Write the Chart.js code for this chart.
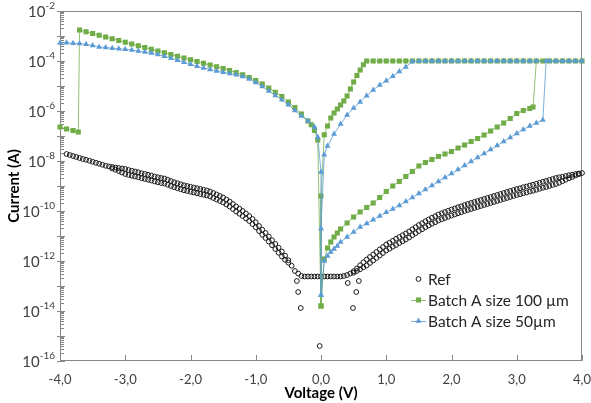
<!DOCTYPE html>
<html>
<head>
<meta charset="utf-8">
<script src="https://cdn.jsdelivr.net/npm/chart.js@4.4.0/dist/chart.umd.min.js"></script>
<style>
  html, body { margin: 0; padding: 0; background: #fff; }
  canvas { display: block; }
</style>
</head>
<body>
<canvas id="ivChart" width="591" height="403"></canvas>
<script>
// all currents are stored as log10(I / A), voltages in V
// Ref: the two sweep directions sit a little apart, upper row and lower row
const refUpper = [
  [-3.9,-7.72],[-3.85,-7.76],[-3.8,-7.80],[-3.75,-7.84],[-3.7,-7.88],[-3.65,-7.92],[-3.6,-7.95],[-3.55,-7.99],
  [-3.5,-8.03],[-3.45,-8.07],[-3.4,-8.11],[-3.35,-8.15],[-3.3,-8.19],[-3.25,-8.22],[-3.2,-8.24],[-3.15,-8.26],
  [-3.1,-8.28],[-3.05,-8.30],[-3.0,-8.32],[-2.95,-8.36],[-2.9,-8.39],[-2.85,-8.42],[-2.8,-8.45],[-2.75,-8.49],
  [-2.7,-8.52],[-2.65,-8.55],[-2.6,-8.58],[-2.55,-8.62],[-2.5,-8.65],[-2.45,-8.68],[-2.4,-8.70],[-2.35,-8.75],
  [-2.3,-8.80],[-2.25,-8.85],[-2.2,-8.89],[-2.15,-8.93],[-2.1,-8.97],[-2.05,-9.00],[-2.0,-9.03],[-1.95,-9.06],
  [-1.9,-9.09],[-1.85,-9.12],[-1.8,-9.15],[-1.75,-9.18],[-1.7,-9.22],[-1.65,-9.28],[-1.6,-9.34],[-1.55,-9.40],
  [-1.5,-9.46],[-1.45,-9.54],[-1.4,-9.62],[-1.35,-9.72],[-1.3,-9.82],[-1.25,-9.91],[-1.2,-10.00],[-1.15,-10.10],
  [-1.1,-10.20],[-1.05,-10.32],[-1.0,-10.45],[-0.95,-10.60],[-0.9,-10.75],[-0.85,-10.88],[-0.8,-11.02],[-0.75,-11.17],
  [-0.7,-11.32],[-0.65,-11.47],[-0.6,-11.62],[-0.55,-11.79],[-0.5,-11.97],[-0.45,-12.19],[-0.4,-12.40],[-0.35,-12.50],
  [-0.3,-12.60],[-0.25,-12.62],[-0.2,-12.62],[-0.15,-12.62],[-0.1,-12.62],[-0.05,-12.62],[0,-12.62],[0.05,-12.62],
  [0.1,-12.62],[0.15,-12.62],[0.2,-12.62],[0.25,-12.62],[0.3,-12.62],[0.35,-12.60],[0.4,-12.56],[0.45,-12.50],
  [0.5,-12.41],[0.55,-12.30],[0.6,-12.17],[0.65,-12.05],[0.7,-11.94],[0.75,-11.84],[0.8,-11.74],[0.85,-11.64],
  [0.9,-11.54],[0.95,-11.44],[1.0,-11.34],[1.05,-11.27],[1.1,-11.19],[1.15,-11.11],[1.2,-11.04],[1.25,-10.97],
  [1.3,-10.90],[1.35,-10.82],[1.4,-10.73],[1.45,-10.65],[1.5,-10.56],[1.55,-10.49],[1.6,-10.41],[1.65,-10.34],
  [1.7,-10.27],[1.75,-10.21],[1.8,-10.14],[1.85,-10.09],[1.9,-10.04],[1.95,-9.99],[2.0,-9.94],[2.05,-9.90],
  [2.1,-9.85],[2.15,-9.81],[2.2,-9.76],[2.25,-9.72],[2.3,-9.68],[2.35,-9.64],[2.4,-9.60],[2.45,-9.56],
  [2.5,-9.52],[2.55,-9.48],[2.6,-9.44],[2.65,-9.40],[2.7,-9.36],[2.75,-9.32],[2.8,-9.28],[2.85,-9.24],
  [2.9,-9.20],[2.95,-9.16],[3.0,-9.12],[3.05,-9.09],[3.1,-9.05],[3.15,-9.02],[3.2,-8.98],[3.25,-8.95],
  [3.3,-8.91],[3.35,-8.87],[3.4,-8.83],[3.45,-8.80],[3.5,-8.76],[3.55,-8.72],[3.6,-8.68],[3.65,-8.65],
  [3.7,-8.63],[3.75,-8.60],[3.8,-8.57],[3.85,-8.55],[3.9,-8.52],[3.95,-8.50],[4.0,-8.48]
];
const refLowerNeg = [
  [-3.2,-8.30],[-3.15,-8.35],[-3.1,-8.40],[-3.05,-8.46],[-3.0,-8.52],[-2.95,-8.56],[-2.9,-8.59],[-2.85,-8.62],
  [-2.8,-8.65],[-2.75,-8.69],[-2.7,-8.72],[-2.65,-8.75],[-2.6,-8.78],[-2.55,-8.82],[-2.5,-8.85],[-2.45,-8.88],
  [-2.4,-8.90],[-2.35,-8.95],[-2.3,-9.00],[-2.25,-9.05],[-2.2,-9.09],[-2.15,-9.13],[-2.1,-9.17],[-2.05,-9.20],
  [-2.0,-9.23],[-1.95,-9.26],[-1.9,-9.29],[-1.85,-9.32],[-1.8,-9.35],[-1.75,-9.38],[-1.7,-9.42],[-1.65,-9.48],
  [-1.6,-9.54],[-1.55,-9.60],[-1.5,-9.66],[-1.45,-9.74],[-1.4,-9.82],[-1.35,-9.92],[-1.3,-10.02],[-1.25,-10.11],
  [-1.2,-10.20],[-1.15,-10.30],[-1.1,-10.40],[-1.05,-10.52],[-1.0,-10.65],[-0.95,-10.80],[-0.9,-10.95],[-0.85,-11.08],
  [-0.8,-11.22],[-0.75,-11.37],[-0.7,-11.52],[-0.65,-11.67],[-0.6,-11.82],[-0.55,-11.95],[-0.5,-12.07]
];
const refLowerPos = [
  [0.5,-12.47],[0.55,-12.40],[0.6,-12.33],[0.65,-12.25],[0.7,-12.18],[0.75,-12.08],[0.8,-11.98],[0.85,-11.88],
  [0.9,-11.78],[0.95,-11.68],[1.0,-11.58],[1.05,-11.51],[1.1,-11.43],[1.15,-11.36],[1.2,-11.28],[1.25,-11.21],
  [1.3,-11.14],[1.35,-11.06],[1.4,-10.97],[1.45,-10.89],[1.5,-10.80],[1.55,-10.73],[1.6,-10.65],[1.65,-10.58],
  [1.7,-10.51],[1.75,-10.45],[1.8,-10.38],[1.85,-10.33],[1.9,-10.28],[1.95,-10.23],[2.0,-10.18],[2.05,-10.14],
  [2.1,-10.09],[2.15,-10.05],[2.2,-10.00],[2.25,-9.96],[2.3,-9.92],[2.35,-9.88],[2.4,-9.84],[2.45,-9.80],
  [2.5,-9.76],[2.55,-9.72],[2.6,-9.68],[2.65,-9.64],[2.7,-9.60],[2.75,-9.56],[2.8,-9.52],[2.85,-9.48],
  [2.9,-9.44],[2.95,-9.40],[3.0,-9.36],[3.05,-9.33],[3.1,-9.29],[3.15,-9.26],[3.2,-9.22],[3.25,-9.19],
  [3.3,-9.15],[3.35,-9.11],[3.4,-9.07],[3.45,-9.04],[3.5,-9.00],[3.55,-8.96],[3.6,-8.92],[3.65,-8.87],
  [3.7,-8.81],[3.75,-8.75],[3.8,-8.69],[3.85,-8.64],[3.9,-8.58],[3.95,-8.53]
];
const refScatter = [
  [-0.37,-12.80],[-0.35,-13.24],[-0.31,-13.88],[-0.02,-15.40],
  [0.41,-12.88],[0.49,-13.88],[0.54,-13.24],[0.58,-12.80]
];

// Batch A 100 um: 0 -> +4 -> 0 -> -4 sweep, in measured order
const b100Set = [
  [0,-13.8],[0.05,-11.92],[0.1,-11.48],[0.15,-11.24],[0.2,-11.04],[0.25,-10.88],[0.3,-10.72],[0.4,-10.48],
  [0.5,-10.24],[0.6,-10.04],[0.7,-9.86],[0.8,-9.68],[0.9,-9.46],[1.0,-9.22],[1.1,-9.00],[1.2,-8.82],
  [1.3,-8.62],[1.4,-8.42],[1.5,-8.20],[1.6,-8.06],[1.7,-7.94],[1.8,-7.82],[1.9,-7.72],[2.0,-7.62],
  [2.1,-7.48],[2.2,-7.36],[2.3,-7.22],[2.4,-7.10],[2.5,-6.96],[2.6,-6.80],[2.7,-6.64],[2.8,-6.48],
  [2.9,-6.30],[3.0,-6.10],[3.1,-5.98],[3.2,-5.90],[3.25,-5.84]
];
const b100On = [
  [3.3,-4],[3.4,-4],[3.5,-4],[3.6,-4],[3.7,-4],[3.8,-4],[3.9,-4],[4.0,-4],
  [3.2,-4],[3.1,-4],[3.0,-4],[2.9,-4],[2.8,-4],[2.7,-4],[2.6,-4],[2.5,-4],[2.4,-4],[2.3,-4],[2.2,-4],
  [2.1,-4],[2.0,-4],[1.9,-4],[1.8,-4],[1.7,-4],[1.6,-4],[1.5,-4],[1.4,-4],[1.3,-4],[1.2,-4],[1.1,-4],
  [1.0,-4],[0.9,-4],[0.8,-4],[0.7,-4],
  [0.65,-4.15],[0.6,-4.36],[0.55,-4.58],[0.5,-4.84],[0.45,-5.12],[0.4,-5.40],[0.35,-5.60],[0.3,-5.76],
  [0.25,-5.92],[0.2,-6.08],[0.15,-6.28],[0.1,-6.60],[0.05,-6.95],[0,-9.4],[0,-13.8]
];
const b100Reset = [
  [-0.05,-7.16],[-0.1,-6.78],[-0.15,-6.55],[-0.2,-6.40],[-0.3,-6.12],[-0.4,-5.86],[-0.5,-5.64],[-0.6,-5.42],
  [-0.7,-5.25],[-0.8,-5.08],[-0.9,-4.92],[-1.0,-4.78],[-1.1,-4.66],[-1.2,-4.55],[-1.3,-4.46],[-1.4,-4.38],
  [-1.5,-4.30],[-1.6,-4.23],[-1.7,-4.16],[-1.8,-4.09],[-1.9,-4.02],[-2.0,-3.95],[-2.1,-3.88],[-2.2,-3.81],
  [-2.3,-3.74],[-2.4,-3.67],[-2.5,-3.60],[-2.6,-3.53],[-2.7,-3.46],[-2.8,-3.39],[-2.9,-3.32],[-3.0,-3.25],
  [-3.1,-3.18],[-3.2,-3.11],[-3.3,-3.04],[-3.4,-2.97],[-3.5,-2.90],[-3.6,-2.83],[-3.7,-2.76],
  [-3.72,-6.84],[-3.8,-6.78],[-3.9,-6.72],[-4.0,-6.64]
];

// Batch A 50 um
const b50Set = [
  [0,-13.36],[0.05,-12.0],[0.1,-11.80],[0.15,-11.64],[0.2,-11.52],[0.25,-11.40],[0.3,-11.24],[0.4,-11.04],
  [0.5,-10.84],[0.6,-10.64],[0.7,-10.50],[0.8,-10.35],[0.9,-10.20],[1.0,-10.05],[1.1,-9.92],[1.2,-9.78],
  [1.3,-9.62],[1.4,-9.46],[1.5,-9.30],[1.6,-9.14],[1.7,-8.98],[1.8,-8.82],[1.9,-8.66],[2.0,-8.50],
  [2.1,-8.34],[2.2,-8.18],[2.3,-8.02],[2.4,-7.86],[2.5,-7.70],[2.6,-7.54],[2.7,-7.38],[2.8,-7.22],
  [2.9,-7.06],[3.0,-6.90],[3.1,-6.74],[3.2,-6.60],[3.3,-6.48],[3.4,-6.36]
];
const b50On = [
  [3.45,-4],[3.5,-4],[3.6,-4],[3.7,-4],[3.8,-4],[3.9,-4],[4.0,-4],
  [3.3,-4],[3.2,-4],[3.1,-4],[3.0,-4],[2.9,-4],[2.8,-4],[2.7,-4],[2.6,-4],[2.5,-4],[2.4,-4],[2.3,-4],
  [2.2,-4],[2.1,-4],[2.0,-4],[1.9,-4],[1.8,-4],[1.7,-4],[1.6,-4],[1.5,-4],
  [1.4,-4.02],[1.3,-4.24],[1.2,-4.42],[1.1,-4.61],[1.0,-4.79],[0.9,-4.96],[0.8,-5.16],[0.7,-5.39],
  [0.6,-5.64],[0.5,-5.88],[0.4,-6.16],[0.3,-6.52],[0.2,-6.92],[0.1,-7.40],[0.05,-7.75],
  [0,-10.7],[0,-13.36],[0,-8.44]
];
const b50Reset = [
  [-0.05,-7.04],[-0.1,-6.64],[-0.2,-6.40],[-0.3,-6.20],[-0.4,-5.98],[-0.5,-5.75],[-0.6,-5.55],[-0.7,-5.38],
  [-0.8,-5.20],[-0.9,-5.02],[-1.0,-4.86],[-1.1,-4.72],[-1.2,-4.62],[-1.3,-4.55],[-1.4,-4.50],[-1.5,-4.45],
  [-1.6,-4.40],[-1.7,-4.34],[-1.8,-4.28],[-1.9,-4.21],[-2.0,-4.13],[-2.1,-4.05],[-2.2,-3.97],[-2.3,-3.89],
  [-2.4,-3.81],[-2.5,-3.74],[-2.6,-3.68],[-2.7,-3.64],[-2.8,-3.60],[-2.9,-3.56],[-3.0,-3.53],[-3.1,-3.51],
  [-3.2,-3.49],[-3.3,-3.46],[-3.4,-3.44],[-3.5,-3.38],[-3.6,-3.33],[-3.7,-3.30],[-3.8,-3.29],[-3.9,-3.27],
  [-4.0,-3.28]
];

const xTickValues = [-4, -3, -2, -1, 0, 1, 2, 3, 4];
const yLabelExps = [-16, -14, -12, -10, -8, -6, -4, -2];
const seriesNames = ['Ref', 'Batch A size 100 \u00b5m', 'Batch A size 50\u00b5m'];

const GREEN = '#70ad47';
const BLUE = '#5b9bd5';
const FONT = 'Lato, "Open Sans", sans-serif';

function toPoints(...parts) {
  return [].concat(...parts).map(p => ({ x: p[0], y: Math.pow(10, p[1]) }));
}

const frameAndTicks = {
  id: 'frameAndTicks',
  beforeDatasetsDraw(chart) {
    const { ctx, chartArea: a, scales: { x, y } } = chart;
    ctx.save();
    ctx.strokeStyle = '#868686';
    ctx.lineWidth = 1;
    ctx.beginPath();
    ctx.rect(a.left + 0.5, a.top + 0.5, a.right - a.left - 1, a.bottom - a.top - 1);
    xTickValues.forEach(v => {
      const px = Math.round(x.getPixelForValue(v)) + 0.5;
      ctx.moveTo(px, a.bottom);
      ctx.lineTo(px, a.bottom - 6);
    });
    for (let e = -16; e <= -2; e++) {
      const py = Math.round(y.getPixelForValue(Math.pow(10, e))) + 0.5;
      ctx.moveTo(a.left - 3, py);
      ctx.lineTo(a.left + 5, py);
      if (e < -2) {
        for (let m = 2; m <= 9; m++) {
          const pm = Math.round(y.getPixelForValue(m * Math.pow(10, e))) + 0.5;
          ctx.moveTo(a.left, pm);
          ctx.lineTo(a.left + 4, pm);
        }
      }
    }
    ctx.stroke();

    // y labels: 10 with superscript exponent
    ctx.fillStyle = '#404040';
    ctx.textBaseline = 'middle';
    yLabelExps.forEach(e => {
      const py = y.getPixelForValue(Math.pow(10, e));
      const exp = String(e);
      ctx.font = '15px ' + FONT;
      const wBase = ctx.measureText('10').width;
      ctx.font = '10px ' + FONT;
      const wExp = ctx.measureText(exp).width;
      const x0 = a.left - 5 - wBase - wExp;
      ctx.font = '15px ' + FONT;
      ctx.fillText('10', x0, py + 1);
      ctx.font = '10px ' + FONT;
      ctx.fillText(exp, x0 + wBase, py - 5);
    });
    ctx.restore();
  }
};

// legend rows: dataset index shown for each series name
const legendRows = [0, 2, 3];

const insideLegend = {
  id: 'insideLegend',
  afterDraw(chart) {
    const { ctx, chartArea: a } = chart;
    const lx = a.left + 351;
    const ly = a.top + 268;
    ctx.save();
    legendRows.forEach((di, i) => {
      const ds = chart.data.datasets[di];
      const cy = ly + i * 21;
      const cx = lx + 7.5;
      if (ds.showLine) {
        ctx.strokeStyle = ds.borderColor;
        ctx.lineWidth = 1;
        ctx.beginPath();
        ctx.moveTo(lx, cy + 0.5);
        ctx.lineTo(lx + 15, cy + 0.5);
        ctx.stroke();
      }
      ctx.fillStyle = ds.pointBackgroundColor;
      ctx.strokeStyle = ds.pointBorderColor;
      ctx.lineWidth = ds.pointBorderWidth;
      Chart.helpers.drawPoint(ctx, {
        pointStyle: ds.pointStyle, radius: ds.pointRadius, borderWidth: ds.pointBorderWidth, rotation: 0
      }, cx, cy);
      ctx.fillStyle = '#262626';
      ctx.font = '15.5px ' + FONT;
      ctx.textBaseline = 'middle';
      ctx.fillText(seriesNames[i], lx + 17, cy + 1);
    });
    ctx.restore();
  }
};

const refStyle = {
  showLine: false,
  pointStyle: 'circle',
  pointRadius: 2.4,
  pointBorderWidth: 1,
  pointBorderColor: '#1a1a1a',
  pointBackgroundColor: 'rgba(255,255,255,0)',
  order: 3,
  clip: false
};

new Chart(document.getElementById('ivChart'), {
  type: 'scatter',
  data: {
    datasets: [
      Object.assign({ label: seriesNames[0], data: toPoints(refUpper, refScatter) }, refStyle),
      Object.assign({ label: seriesNames[0] + ' (lower)', data: toPoints(refLowerNeg, refLowerPos) }, refStyle),
      {
        label: seriesNames[1],
        data: toPoints(b100Set, b100On, b100Reset),
        showLine: true,
        borderColor: 'rgba(112,173,71,0.75)',
        borderWidth: 1,
        pointStyle: 'rect',
        pointRadius: 3.6,
        pointBorderWidth: 0,
        pointBorderColor: GREEN,
        pointBackgroundColor: GREEN,
        order: 2,
        clip: false
      },
      {
        label: seriesNames[2],
        data: toPoints(b50Set, b50On, b50Reset),
        showLine: true,
        borderColor: 'rgba(91,155,213,0.8)',
        borderWidth: 1,
        pointStyle: 'triangle',
        pointRadius: 3.4,
        pointBorderWidth: 0,
        pointBorderColor: BLUE,
        pointBackgroundColor: BLUE,
        order: 1,
        clip: false
      }
    ]
  },
  options: {
    responsive: false,
    animation: false,
    layout: { padding: { top: 11, right: 9, left: 0, bottom: 0 } },
    plugins: { legend: { display: false }, tooltip: { enabled: false } },
    scales: {
      x: {
        type: 'linear',
        min: -4,
        max: 4,
        afterBuildTicks: s => { s.ticks = xTickValues.map(v => ({ value: v })); },
        afterFit: s => { s.height = 42; s.paddingLeft = 0; s.paddingRight = 0; },
        grid: { display: false, drawTicks: false },
        border: { display: false },
        ticks: {
          autoSkip: false,
          maxRotation: 0,
          padding: 11,
          color: '#404040',
          font: { family: FONT, size: 13 },
          callback: v => Number(v).toFixed(1).replace('.', ',')
        },
        title: {
          display: true,
          text: 'Voltage (V)',
          color: '#000',
          font: { family: FONT, size: 15, weight: 'bold' },
          padding: { top: 0, bottom: 1 }
        }
      },
      y: {
        type: 'logarithmic',
        min: 1e-16,
        max: 1e-2,
        afterFit: s => { s.width = 60; s.paddingTop = 0; s.paddingBottom = 0; },
        grid: { display: false, drawTicks: false },
        border: { display: false },
        ticks: { display: false },
        title: {
          display: true,
          text: 'Current (A)',
          color: '#000',
          font: { family: FONT, size: 15, weight: 'bold' },
          padding: { top: 5, bottom: 0 }
        }
      }
    }
  },
  plugins: [frameAndTicks, insideLegend]
});
</script>
</body>
</html>
